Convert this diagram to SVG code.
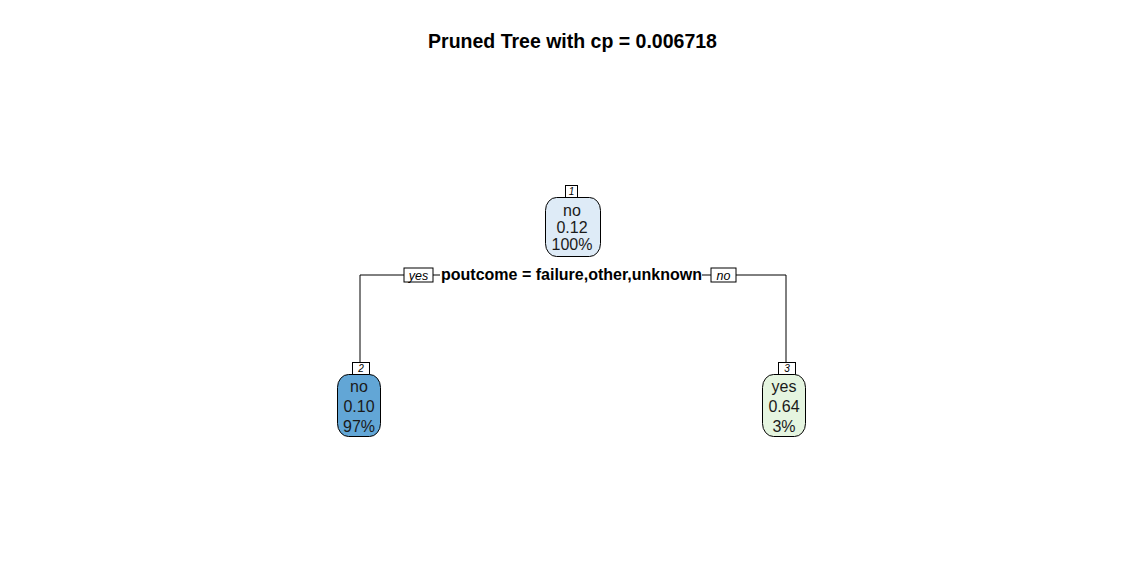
<svg xmlns="http://www.w3.org/2000/svg" width="1145" height="573" viewBox="0 0 1145 573">
<style>
.title{font-family:"Liberation Sans",Arial,sans-serif;font-weight:bold;font-size:19.5px;fill:#000}
.nt{font-family:"Liberation Sans",Arial,sans-serif;font-size:16px;fill:#1a1a1a;text-anchor:middle}
.split{font-family:"Liberation Sans",Arial,sans-serif;font-weight:bold;font-size:16px;fill:#000;text-anchor:middle}
.lb{fill:#fff;stroke:#000;stroke-width:1}
.lbt{font-family:"Liberation Sans",Arial,sans-serif;font-style:italic;font-size:12.5px;fill:#000;text-anchor:middle}
.nn{font-family:"Liberation Sans",Arial,sans-serif;font-style:italic;font-size:10px;fill:#000;text-anchor:middle}
.body{stroke:#000;stroke-width:1}
.line{fill:none;stroke:#000;stroke-width:1}
</style>
<rect width="1145" height="573" fill="#fff"/>
<text class="title" x="572.5" y="48" text-anchor="middle">Pruned Tree with cp = 0.006718</text>
<g id="connectors">
<path class="line" d="M404,275 H360 V363"/>
<path class="line" d="M433,275 H440"/>
<path class="line" d="M702,275 H711"/>
<path class="line" d="M736,275 H786 V363"/>
<rect class="lb" x="404" y="268" width="29" height="14"/>
<text class="lbt" x="418.5" y="279.5">yes</text>
<rect class="lb" x="711" y="268" width="25" height="14"/>
<text class="lbt" x="723.5" y="279.5">no</text>
<text class="split" x="571.5" y="280">poutcome = failure,other,unknown</text>
</g>
<g id="node1">
<rect class="lb" x="565.5" y="185.5" width="12" height="12"/>
<text class="nn" x="571.5" y="195">1</text>
<rect class="body" x="545.5" y="197.5" width="55" height="59" rx="11" ry="13" fill="#deebf7"/>
<text class="nt" x="572" y="216">no</text>
<text class="nt" x="572" y="233">0.12</text>
<text class="nt" x="572" y="250">100%</text>
</g>
<g id="node2">
<rect class="lb" x="352.5" y="362.5" width="17" height="12"/>
<text class="nn" x="361" y="372">2</text>
<rect class="body" x="337.5" y="374.5" width="43" height="62" rx="11" ry="13" fill="#62a6d6"/>
<text class="nt" x="359" y="392">no</text>
<text class="nt" x="359" y="412">0.10</text>
<text class="nt" x="359" y="432">97%</text>
</g>
<g id="node3">
<rect class="lb" x="778.5" y="362.5" width="17" height="12"/>
<text class="nn" x="787" y="372">3</text>
<rect class="body" x="762.5" y="374.5" width="43" height="62" rx="11" ry="13" fill="#e5f5e0"/>
<text class="nt" x="784" y="392">yes</text>
<text class="nt" x="784" y="412">0.64</text>
<text class="nt" x="784" y="432">3%</text>
</g>
</svg>
